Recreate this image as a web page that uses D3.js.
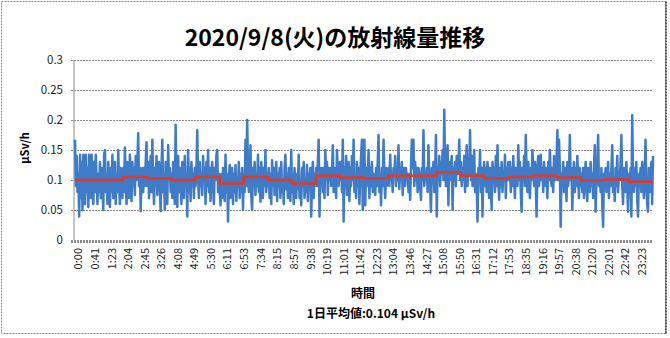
<!DOCTYPE html>
<html><head><meta charset="utf-8">
<script src="https://cdn.jsdelivr.net/npm/d3@7"></script>
<style>
body{margin:0;background:#fff}
svg{display:block}
text{font-family:"Noto Sans CJK JP","Noto Sans",sans-serif}
</style>
</head><body>
<svg id="chart" width="670" height="338"></svg>
<script>
const chartTitle = "2020/9/8(火)の放射線量推移";
const yAxisTitle = "µSv/h";
const xAxisTitle = "時間";
const averageLabel = "1日平均値:0.104 µSv/h";
const xTickLabels = ["0:00","0:41","1:23","2:04","2:45","3:26","4:08","4:49","5:30","6:11","6:53","7:34","8:15","8:57","9:38","10:19","11:01","11:42","12:23","13:04","13:46","14:27","15:08","15:50","16:31","17:12","17:53","18:35","19:16","19:57","20:38","21:20","22:01","22:42","23:23"];
const yTicks = [0, 0.05, 0.1, 0.15, 0.2, 0.25, 0.3];
const yTickLabels = ["0","0.05","0.1","0.15","0.2","0.25","0.3"];

const doseRate = [
  0.167,0.09,0.14,0.08,0.11,0.039,0.142,0.07,0.13,0.05,0.142,0.09,0.06,0.142,0.08,0.12,0.055,0.142,0.10,0.07,0.142,0.09,0.06,0.13,0.08,0.142,0.10,0.06,0.11,
  0.08,0.13,0.07,0.12,0.09,0.05,0.142,0.15,0.08,0.11,0.06,0.13,0.09,0.055,0.12,0.08,0.142,0.07,0.10,0.13,0.06,0.11,0.08,0.15,0.09,0.06,0.12,0.10,0.07,
  0.12,0.08,0.154,0.09,0.06,0.13,0.08,0.07,0.142,0.11,0.065,0.13,0.09,0.12,0.075,0.14,0.10,0.13,0.178,0.09,0.12,0.048,0.11,0.12,0.08,0.12,0.09,0.13,0.163,
  0.09,0.13,0.07,0.11,0.14,0.08,0.167,0.10,0.06,0.12,0.09,0.14,0.075,0.11,0.13,0.09,0.048,0.12,0.167,0.08,0.11,0.05,0.13,0.09,0.06,0.158,0.10,0.12,0.08,
  0.11,0.07,0.13,0.09,0.06,0.192,0.10,0.055,0.14,0.08,0.12,0.09,0.06,0.13,0.10,0.07,0.14,0.09,0.11,0.039,0.15,0.08,0.12,0.065,0.13,0.09,0.11,0.07,0.12,
  0.09,0.12,0.183,0.10,0.07,0.13,0.09,0.11,0.075,0.14,0.10,0.12,0.06,0.13,0.09,0.15,0.08,0.12,0.065,0.11,0.13,0.09,0.06,0.12,0.10,0.14,0.15,0.08,0.11,
  0.08,0.058,0.11,0.07,0.12,0.09,0.065,0.142,0.08,0.11,0.031,0.10,0.125,0.07,0.09,0.12,0.06,0.11,0.08,0.125,0.065,0.10,0.09,0.13,0.07,0.11,0.08,0.12,0.05,
  0.11,0.08,0.167,0.09,0.20,0.12,0.08,0.10,0.158,0.07,0.05,0.12,0.09,0.13,0.075,0.11,0.09,0.142,0.08,0.12,0.064,0.13,0.10,0.07,0.12,0.09,0.15,0.08,0.11,
  0.09,0.12,0.07,0.11,0.06,0.133,0.09,0.12,0.075,0.10,0.13,0.065,0.11,0.09,0.12,0.07,0.13,0.08,0.10,0.06,0.12,0.142,0.085,0.11,0.07,0.12,0.09,0.065,0.15,
  0.08,0.11,0.06,0.12,0.09,0.07,0.11,0.085,0.142,0.07,0.10,0.058,0.12,0.09,0.13,0.07,0.10,0.08,0.125,0.065,0.11,0.09,0.12,0.039,0.10,0.13,0.07,0.11,0.09,
  0.12,0.09,0.13,0.167,0.039,0.12,0.10,0.12,0.08,0.12,0.07,0.15,0.10,0.13,0.075,0.12,0.10,0.12,0.09,0.11,0.158,0.08,0.12,0.10,0.07,0.15,0.11,0.09,0.13,
  0.10,0.13,0.08,0.167,0.031,0.12,0.09,0.14,0.075,0.11,0.13,0.065,0.12,0.09,0.14,0.10,0.167,0.08,0.11,0.07,0.13,0.09,0.12,0.06,0.11,0.14,0.167,0.05,0.12,
  0.167,0.058,0.12,0.09,0.11,0.15,0.07,0.12,0.09,0.13,0.08,0.11,0.10,0.075,0.12,0.09,0.13,0.175,0.08,0.11,0.058,0.12,0.09,0.167,0.10,0.07,0.12,0.09,0.11,
  0.12,0.09,0.142,0.10,0.11,0.08,0.12,0.11,0.14,0.09,0.12,0.10,0.158,0.085,0.12,0.10,0.13,0.075,0.11,0.12,0.09,0.12,0.10,0.11,0.08,0.11,0.067,0.12,0.167,
  0.12,0.167,0.09,0.13,0.10,0.12,0.08,0.12,0.11,0.09,0.067,0.12,0.10,0.183,0.09,0.11,0.10,0.12,0.08,0.158,0.11,0.09,0.047,0.12,0.10,0.13,0.08,0.11,0.175,
  0.039,0.12,0.10,0.14,0.09,0.13,0.11,0.15,0.10,0.217,0.12,0.09,0.14,0.158,0.058,0.13,0.10,0.12,0.14,0.05,0.12,0.10,0.13,0.09,0.14,0.11,0.12,0.167,0.10,
  0.13,0.09,0.12,0.10,0.14,0.08,0.12,0.158,0.09,0.13,0.11,0.183,0.10,0.14,0.09,0.12,0.15,0.08,0.11,0.09,0.031,0.12,0.10,0.15,0.08,0.12,0.039,0.11,0.13,
  0.09,0.12,0.08,0.13,0.10,0.07,0.12,0.09,0.05,0.13,0.10,0.12,0.08,0.14,0.09,0.158,0.10,0.067,0.12,0.09,0.13,0.08,0.11,0.10,0.142,0.07,0.12,0.10,0.13,
  0.10,0.13,0.08,0.12,0.09,0.14,0.10,0.07,0.12,0.11,0.09,0.158,0.10,0.13,0.08,0.047,0.12,0.10,0.14,0.09,0.175,0.11,0.08,0.13,0.10,0.07,0.12,0.10,0.15,
  0.12,0.09,0.13,0.10,0.039,0.12,0.14,0.09,0.11,0.142,0.10,0.12,0.08,0.13,0.11,0.09,0.12,0.07,0.13,0.10,0.15,0.11,0.09,0.12,0.08,0.14,0.11,0.10,0.13,
  0.183,0.10,0.167,0.12,0.022,0.11,0.09,0.13,0.08,0.12,0.10,0.065,0.13,0.09,0.11,0.175,0.10,0.12,0.05,0.11,0.13,0.08,0.12,0.09,0.14,0.10,0.07,0.12,0.09,
  0.11,0.08,0.12,0.07,0.10,0.13,0.09,0.065,0.12,0.10,0.08,0.13,0.09,0.11,0.07,0.12,0.158,0.047,0.10,0.12,0.175,0.09,0.11,0.08,0.12,0.06,0.022,0.11,0.09,
  0.12,0.08,0.10,0.13,0.07,0.11,0.09,0.12,0.158,0.08,0.10,0.065,0.12,0.09,0.14,0.08,0.11,0.10,0.13,0.175,0.09,0.06,0.12,0.10,0.08,0.13,0.09,0.047,0.11,
  0.09,0.12,0.039,0.208,0.10,0.08,0.12,0.09,0.13,0.07,0.039,0.11,0.09,0.12,0.08,0.13,0.10,0.07,0.11,0.167,0.09,0.06,0.047,0.12,0.10,0.08,0.13,0.06,0.14
];

// hourly averages (µSv/h), hours 0..23
const hourlyAverage = [0.100,0.100,0.105,0.103,0.100,0.105,0.094,0.105,0.100,0.094,0.107,0.104,0.103,0.107,0.107,0.113,0.107,0.103,0.105,0.107,0.104,0.099,0.101,0.097];

const svg = d3.select("#chart");
const W = 670, H = 338;
const plot = {left: 75, right: 653, top: 60, bottom: 240};
const dayMinutes = 1439;

const toMinutes = s => { const [h, m] = s.split(":").map(Number); return h * 60 + m; };

const x = d3.scaleLinear().domain([0, dayMinutes]).range([plot.left, plot.right]);
const y = d3.scaleLinear().domain([0, 0.3]).range([plot.bottom, plot.top]);

// chart border
svg.append("rect").attr("x", 1.5).attr("y", 1.5).attr("width", W - 6).attr("height", H - 6)
  .attr("fill", "#fff").attr("stroke", "#8c8c8c").attr("stroke-width", 1).attr("stroke-dasharray", "2,1");
svg.append("line").attr("x1", W - 4).attr("x2", W - 4).attr("y1", 1.5).attr("y2", H - 4.5)
  .attr("stroke", "#555").attr("stroke-width", 2).attr("stroke-dasharray", "2,1");

// title
svg.append("text").attr("x", W / 2).attr("y", 46).attr("text-anchor", "middle")
  .attr("font-size", 23).attr("font-weight", "bold").attr("fill", "#000").text(chartTitle);

// y grid + axis
const yAxis = d3.axisLeft(y).tickValues(yTicks).tickSize(-(plot.right - plot.left) - 4)
  .tickFormat((d, i) => yTickLabels[i]).tickPadding(8);
const gy = svg.append("g").attr("transform", `translate(${plot.left - 4},0)`).call(yAxis);
gy.select(".domain").remove();
gy.selectAll(".tick line").attr("stroke", "#8a8a8a").attr("stroke-dasharray", "2,1");
gy.selectAll(".tick text").attr("font-size", 11.5).attr("fill", "#222").attr("font-family", "Noto Sans, sans-serif");
gy.selectAll(".tick").filter(d => d === 0).select("line").remove();

// left axis line
svg.append("line").attr("x1", plot.left - 1).attr("x2", plot.left - 1).attr("y1", plot.top).attr("y2", plot.bottom)
  .attr("stroke", "#8a8a8a").attr("stroke-width", 1);

// x axis
const xAxis = d3.axisBottom(x).tickValues(xTickLabels.map(toMinutes))
  .tickFormat((d, i) => xTickLabels[i]).tickSize(0);
const gx = svg.append("g").attr("transform", `translate(0,${plot.bottom + 2})`).call(xAxis);
gx.select(".domain").remove();
gx.selectAll(".tick text")
  .attr("font-size", 11).attr("fill", "#222").attr("font-family", "Noto Sans, sans-serif")
  .attr("text-anchor", "end").attr("dy", "0.35em")
  .attr("transform", "translate(3,6) rotate(-90)").attr("x", 0).attr("y", 0);
svg.append("line").attr("x1", plot.left - 4).attr("x2", plot.right).attr("y1", plot.bottom + 1.5).attr("y2", plot.bottom + 1.5)
  .attr("stroke", "#8a8a8a").attr("stroke-width", 3).attr("stroke-dasharray", "2,1");

// dose rate series
const step = dayMinutes / (doseRate.length - 1);
const line = d3.line().x((d, i) => x(i * step)).y(d => y(d)).curve(d3.curveLinear);
svg.append("path").datum(doseRate).attr("d", line).attr("fill", "none")
  .attr("stroke", "#3f7bc6").attr("stroke-width", 2.5).attr("stroke-linejoin", "round");

// hourly average series
const avgPoints = hourlyAverage.map((v, h) => ({m: h * 60, v}));
avgPoints.push({m: dayMinutes, v: hourlyAverage[hourlyAverage.length - 1]});
const avgLine = d3.line().x(d => x(d.m)).y(d => y(d.v)).curve(d3.curveStepAfter);
svg.append("path").datum(avgPoints).attr("d", avgLine).attr("fill", "none")
  .attr("stroke", "#dd3a2a").attr("stroke-width", 2.5);

// axis titles
svg.append("text").attr("transform", `translate(29,${(plot.top + plot.bottom) / 2 - 2}) rotate(-90)`)
  .attr("text-anchor", "middle").attr("font-size", 11).attr("font-weight", "bold").text(yAxisTitle);
svg.append("text").attr("x", 363).attr("y", 298).attr("text-anchor", "middle")
  .attr("font-size", 12).attr("font-weight", "bold").text(xAxisTitle);
svg.append("text").attr("x", 371).attr("y", 318).attr("text-anchor", "middle")
  .attr("font-size", 12).attr("font-weight", "bold").text(averageLabel);
</script>
</body></html>
